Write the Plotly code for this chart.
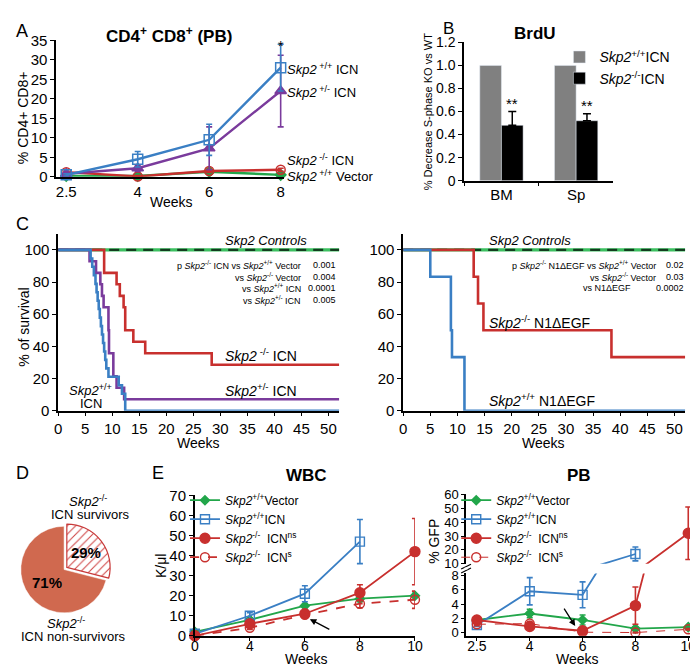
import plotly.graph_objects as go

FONT = "Liberation Sans, Arial, sans-serif"
W, H = 698, 666


def px(x):
    return x / W


def py(y):
    return 1 - y / H


BLUE = "#3a7fc4"
PURPLE = "#7a3b9c"
RED = "#c8302e"
GREEN = "#22a64a"
DKGREEN = "#123d1e"
GRAY = "#808080"
PIE = "#d0694f"

# ---------------- Panel A data ----------------
a_weeks = ["2.5", "4", "6", "8"]
a_wt_icn = [0.5, 4.5, 9.5, 28.0]
a_wt_icn_err = [0.3, 2.0, 4.0, 6.0]
a_het_icn = [0.8, 2.2, 7.3, 22.0]
a_het_icn_err = [0.3, 0.8, 5.5, 9.2]
a_ko_icn = [1.2, 0.1, 1.5, 1.8]
a_ko_icn_err = [0.3, 0.2, 0.4, 0.4]
a_wt_vec = [0.2, 0.2, 1.3, 0.5]
a_wt_vec_err = [0.1, 0.1, 0.3, 0.2]

# ---------------- Panel B data ----------------
b_tissues = ["BM", "Sp"]
b_wt = [1.0, 1.0]
b_ko = [0.48, 0.52]
b_ko_err = [0.12, 0.06]
b_yticks = [0, 0.2, 0.4, 0.6, 0.8, 1.0, 1.2]
b_yticklabels = ["0", "0.2", "0.4", "0.6", "0.8", "1.0", "1.2"]

# ---------------- Panel C data (survival, % vs weeks) ----------------
c1_ctrl_t = [0, 52]
c1_ctrl_s = [100, 100]
c1_ko_t = [0, 8.5, 10.8, 11.4, 12.1, 12.4, 13.9, 16.1, 28.4, 52]
c1_ko_s = [100, 85.7, 78.6, 71.4, 64.3, 50.0, 42.9, 35.7, 28.6, 28.6]
c1_het_t = [0, 5.8, 7.0, 7.8, 8.1, 8.4, 9.3, 9.4, 10.2, 10.8, 12.2, 52]
c1_het_s = [100, 92.9, 85.7, 78.6, 71.4, 64.3, 50.0, 35.7, 21.4, 14.3, 7.1, 7.1]
c1_wt_t = [0, 6.0, 6.3, 6.6, 6.9, 7.1, 7.3, 7.5, 7.7, 7.9, 8.1, 8.3, 8.5, 8.7,
           8.9, 9.3, 11.2, 11.8, 12.4, 52]
c1_wt_s = [100, 94.7, 89.5, 84.2, 78.9, 73.7, 68.4, 63.2, 57.9, 52.6, 47.4,
           42.1, 36.8, 31.6, 26.3, 21.1, 15.8, 10.5, 0, 0]

c2_ctrl_t = [0, 52]
c2_ctrl_s = [100, 100]
c2_ko_t = [0, 13.0, 13.8, 14.8, 38.4, 52]
c2_ko_s = [100, 83.3, 66.7, 50.0, 33.3, 33.3]
c2_wt_t = [0, 5.0, 8.8, 9.0, 11.3, 52]
c2_wt_s = [100, 83.3, 50.0, 33.3, 0, 0]

# ---------------- Panel D data ----------------
d_labels = ["survivors", "non-survivors"]
d_values = [29, 71]

# ---------------- Panel E data ----------------
e_wbc_weeks = ["0", "4", "6", "8", "10"]
wbc_vec = [2.0, 8.0, 15.0, 18.5, 20.0]
wbc_vec_err = [0.3, 0.8, 1.0, 1.5, 2.0]
wbc_icn = [1.0, 10.0, 21.0, 47.0]
wbc_icn_err = [0.3, 1.5, 4.0, 11.0]
wbc_ns = [0.0, 6.0, 11.0, 21.5, 42.0]
wbc_ns_err = [0.2, 1.0, 1.5, 4.0, 16.5]
wbc_s = [0.0, 4.0, 10.5, 16.0, 18.0]
wbc_s_err = [0.2, 0.8, 1.0, 2.0, 4.3]

e_pb_weeks = ["2.5", "4", "6", "8", "10"]
pb_vec = [1.8, 2.7, 1.8, 0.6, 0.8]
pb_vec_err = [0.2, 0.6, 0.7, 0.2, 0.2]
pb_icn = [1.1, 5.8, 5.3, 17.0]
pb_icn_err = [0.2, 1.9, 1.8, 5.0]
pb_ns = [1.8, 0.9, 0.3, 3.8, 32.0]
pb_ns_err = [0.2, 0.2, 0.1, 2.6, 19.0]
pb_s = [1.2, 1.3, 0.1, 0.05, 0.5]
pb_s_err = [0.2, 0.3, 0.1, 0.05, 0.1]

fig = go.Figure()

EB = dict(thickness=1.6, width=3)


def err(vals, color):
    return dict(type="data", array=vals, visible=True, color=color, **EB)


# ---- Panel A traces ----
for y, e, color, sym, size in [
    (a_wt_vec, a_wt_vec_err, GREEN, "diamond", 8),
    (a_ko_icn, a_ko_icn_err, RED, "circle-open", 9),
    (a_het_icn, a_het_icn_err, PURPLE, "triangle-up", 10),
    (a_wt_icn, a_wt_icn_err, BLUE, "square-open", 10),
]:
    fig.add_trace(go.Scatter(
        x=a_weeks, y=y, mode="lines+markers", xaxis="x", yaxis="y",
        line=dict(color=color, width=2.4),
        marker=dict(symbol=sym, size=size, color=color, line=dict(width=1.5, color=color)),
        error_y=err(e, color), showlegend=False, cliponaxis=False))

# ---- Panel B traces ----
fig.add_trace(go.Bar(
    x=b_tissues, y=b_wt, xaxis="x2", yaxis="y2", marker_color=GRAY,
    name="<i>Skp2</i><sup>+/+</sup>ICN", legend="legend"))
fig.add_trace(go.Bar(
    x=b_tissues, y=b_ko, xaxis="x2", yaxis="y2", marker_color="black",
    name="<i>Skp2</i><sup>-/-</sup>ICN", legend="legend",
    error_y=dict(type="data", array=b_ko_err, arrayminus=[0, 0], symmetric=False,
                 color="black", thickness=1.5, width=4)))

# ---- Panel C traces ----
def surv(t, s, xa, ya, color, width=2.6, dash=None):
    fig.add_trace(go.Scatter(
        x=t, y=s, xaxis=xa, yaxis=ya, mode="lines", line_shape="hv",
        line=dict(color=color, width=width, dash=dash), showlegend=False,
        cliponaxis=False))


surv(c1_ctrl_t, c1_ctrl_s, "x3", "y3", "#3cc060", width=3.4)
surv(c1_ctrl_t, c1_ctrl_s, "x3", "y3", DKGREEN, width=2.2, dash="10px,7px")
surv(c1_ko_t, c1_ko_s, "x3", "y3", RED)
surv(c1_het_t, c1_het_s, "x3", "y3", PURPLE)
surv(c1_wt_t, c1_wt_s, "x3", "y3", BLUE)

surv(c2_ctrl_t, c2_ctrl_s, "x4", "y4", "#3cc060", width=3.4)
surv(c2_ctrl_t, c2_ctrl_s, "x4", "y4", DKGREEN, width=2.2, dash="10px,7px")
surv(c2_ko_t, c2_ko_s, "x4", "y4", RED)
surv(c2_wt_t, c2_wt_s, "x4", "y4", BLUE)

# ---- Panel D pie ----
fig.add_trace(go.Pie(
    labels=d_labels, values=d_values, sort=False, direction="clockwise", rotation=0,
    pull=[0.08, 0], text=["<b>29%</b>", "<b>71%</b>"], textinfo="text",
    textposition="inside", insidetextorientation="horizontal",
    textfont=dict(size=15, color="black", family=FONT),
    marker=dict(colors=["white", PIE],
                pattern=dict(shape=["/", ""], fgcolor=["#d04848", PIE], bgcolor=["white", PIE],
                             size=6, solidity=0.18),
                line=dict(color=["#c83a3a", "white"], width=[1.2, 0.5])),
    domain=dict(x=[px(5), px(101)], y=[py(615), py(519)]),
    showlegend=False, hoverinfo="none"))

# ---- Panel E WBC ----
e_series = [
    ("<i>Skp2</i><sup>+/+</sup>Vector", GREEN, "diamond", 7, None),
    ("<i>Skp2</i><sup>+/+</sup>ICN", BLUE, "square-open", 9, None),
    ("<i>Skp2</i><sup>-/-</sup>  ICN<sup>ns</sup>", RED, "circle", 10, None),
    ("<i>Skp2</i><sup>-/-</sup>  ICN<sup>s</sup>", RED, "circle-open", 9, "dash"),
]
wbc_vals = [(wbc_vec, wbc_vec_err), (wbc_icn, wbc_icn_err), (wbc_ns, wbc_ns_err), (wbc_s, wbc_s_err)]
for (name, color, sym, size, dash), (y, e) in zip(e_series, wbc_vals):
    fig.add_trace(go.Scatter(
        x=e_wbc_weeks[:len(y)], y=y, xaxis="x5", yaxis="y5", mode="lines+markers",
        name=name, legend="legend2",
        line=dict(color=color, width=1.8, dash=dash),
        marker=dict(symbol=sym, size=size, color=color, line=dict(width=1.4, color=color)),
        error_y=err(e, color), cliponaxis=False))

# ---- Panel E PB (broken axis) ----
pb_vals = [(pb_vec, pb_vec_err), (pb_icn, pb_icn_err), (pb_ns, pb_ns_err), (pb_s, pb_s_err)]
pb_widths = [1.8, 1.8, 1.8, 1.0]
for (name, color, sym, size, dash), (y, e), lw in zip(e_series, pb_vals, pb_widths):
    fig.add_trace(go.Scatter(
        x=e_pb_weeks[:len(y)], y=y, xaxis="x6", yaxis="y6", mode="lines+markers",
        name=name, legend="legend3",
        line=dict(color=color, width=lw, dash=dash),
        marker=dict(symbol=sym, size=size, color=color, line=dict(width=1.4, color=color)),
        error_y=err(e, color), cliponaxis=True))
for (name, color, sym, size, dash), (y, e) in [(e_series[1], pb_vals[1]), (e_series[2], pb_vals[2])]:
    fig.add_trace(go.Scatter(
        x=e_pb_weeks[:len(y)], y=y, xaxis="x6", yaxis="y7", mode="lines+markers",
        showlegend=False,
        line=dict(color=color, width=1.8, dash=dash),
        marker=dict(symbol=sym, size=size, color=color, line=dict(width=1.4, color=color)),
        error_y=err(e, color), cliponaxis=True))

TICKF = dict(family=FONT, size=15, color="black")
TICKF14 = dict(family=FONT, size=14, color="black")
TICKF13 = dict(family=FONT, size=13, color="black")
AX = dict(showline=True, linecolor="black", linewidth=1.5, ticks="outside",
          ticklen=4, tickcolor="black", tickwidth=1.2, showgrid=False, zeroline=False,
          tickfont=TICKF)

layout = dict(
    width=W, height=H, margin=dict(l=0, r=0, t=0, b=0),
    paper_bgcolor="white", plot_bgcolor="white",
    font=dict(family=FONT, color="black"),
    barmode="group", bargap=0.42, bargroupgap=0,
    # A
    xaxis=dict(AX, domain=[px(45), px(277)], anchor="y", type="category",
               range=[-0.14, 3.05], ticks=""),
    yaxis=dict(AX, domain=[py(164), py(24)], anchor="x", range=[0, 35],
               tickvals=[0, 5, 10, 15, 20, 25, 30, 35]),
    # B
    xaxis2=dict(AX, domain=[px(460), px(612)], anchor="y2", type="category",
                range=[-0.5, 1.5], tickson="boundaries"),
    yaxis2=dict(AX, domain=[py(168), py(26)], anchor="x2", range=[0, 1.2],
                tickvals=b_yticks, ticktext=b_yticklabels, tickfont=TICKF14),
    # C left
    xaxis3=dict(AX, domain=[px(47), px(333)], anchor="y3", range=[0, 52],
                tickvals=list(range(0, 55, 5))),
    yaxis3=dict(AX, domain=[py(404), py(223)], anchor="x3", range=[0, 109.7],
                tickvals=[0, 20, 40, 60, 80, 100]),
    # C right
    xaxis4=dict(AX, domain=[px(398), px(685)], anchor="y4", range=[0, 52],
                tickvals=list(range(0, 55, 5))),
    yaxis4=dict(AX, domain=[py(404), py(223)], anchor="x4", range=[0, 109.7],
                tickvals=[0, 20, 40, 60, 80, 100]),
    # E WBC
    xaxis5=dict(AX, domain=[px(186), px(410)], anchor="y5", type="category",
                range=[0, 4], ticklen=3, ticklabelstandoff=-6, tickfont=TICKF14),
    yaxis5=dict(AX, domain=[py(635), py(491)], anchor="x5", range=[0, 70],
                tickvals=[0, 10, 20, 30, 40, 50, 60, 70]),
    # E PB
    xaxis6=dict(AX, domain=[px(462), px(694)], anchor="y6", type="category",
                range=[-0.205, 4.11], ticklen=3, ticklabelstandoff=-6, tickfont=TICKF14),
    yaxis6=dict(AX, domain=[py(635), py(571)], anchor="x6", range=[-0.4, 8.28],
                tickvals=[0, 2, 4, 6, 8], tickfont=TICKF13, ticklen=3),
    yaxis7=dict(AX, domain=[py(561), py(490)], anchor="x6", range=[10, 60],
                tickvals=[10, 20, 30, 40, 50, 60], tickfont=TICKF13, ticklen=3),
    legend=dict(x=px(557), y=py(25), xanchor="left", yanchor="top",
                bgcolor="rgba(0,0,0,0)", font=dict(family=FONT, size=14),
                tracegroupgap=0),
    legend2=dict(x=px(176), y=py(481), xanchor="left", yanchor="top",
                 bgcolor="rgba(0,0,0,0)", font=dict(family=FONT, size=12),
                 tracegroupgap=0, itemwidth=30),
    legend3=dict(x=px(452), y=py(481), xanchor="left", yanchor="top",
                 bgcolor="rgba(0,0,0,0)", font=dict(family=FONT, size=12),
                 tracegroupgap=0, itemwidth=30),
)
fig.update_layout(**layout)

ann = []


def T(x, y, text, size=14, xanchor="center", yanchor="middle", angle=0, **kw):
    ann.append(dict(x=px(x), y=py(y), xref="paper", yref="paper", text=text,
                    showarrow=False, xanchor=xanchor, yanchor=yanchor, textangle=angle,
                    font=dict(family=FONT, size=size, color="black"), **kw))


# panel letters
T(2, 14, "A", 18, xanchor="left")
T(436, 12, "B", 17, xanchor="left")
T(2, 212, "C", 18, xanchor="left")
T(2, 468, "D", 18, xanchor="left")
T(140, 468, "E", 18, xanchor="left")

# A
T(160, 18, "<b>CD4<sup>+</sup> CD8<sup>+</sup> (PB)</b>", 17)
T(12, 103, "% CD4+ CD8+", 14, angle=-90)
T(162, 190, "Weeks", 14)
T(278, 53, "<i>Skp2</i><sup> +/+</sup> ICN", 13, xanchor="left")
T(278, 77, "<i>Skp2</i><sup> +/-</sup> ICN", 13, xanchor="left")
T(278, 147, "<i>Skp2</i><sup> -/-</sup> ICN", 13, xanchor="left")
T(278, 163, "<i>Skp2</i><sup> +/+</sup> Vector", 13, xanchor="left")
ann.append(dict(x=3, xref="x", y=py(19), yref="paper", text="*", showarrow=False,
                font=dict(family=FONT, size=14, color="black")))

# B
T(532, 17, "<b>BrdU</b>", 17)
T(423, 97, "% Decrease S-phase KO vs WT", 11, angle=-90)
for i, (v, e) in enumerate(zip(b_ko, b_ko_err)):
    ann.append(dict(x=i + 0.145, xref="x2", y=v + e - 0.02, yref="y2", text="**",
                    showarrow=False, yanchor="bottom",
                    font=dict(family=FONT, size=15, color="black")))

# C left
T(12, 318, "% of survival", 14, angle=-90)
T(190, 437, "Weeks", 14)
T(258, 229, "<i>Skp2 Controls</i>", 13)
pl = [("p <i>Skp2</i><sup>-/-</sup> ICN vs <i>Skp2</i><sup>+/+</sup> Vector", "0.001"),
      ("vs <i>Skp2</i><sup>-/-</sup> Vector", "0.004"),
      ("vs <i>Skp2</i><sup>+/+</sup> ICN", "0.0001"),
      ("vs <i>Skp2</i><sup>+/-</sup> ICN", "0.005")]
for k, (a, b) in enumerate(pl):
    yy = 254 + k * 12.3
    T(296, yy, a, 9, xanchor="right")
    T(332, yy, b, 9, xanchor="right")
T(215, 347, "<i>Skp2</i><sup> -/-</sup> ICN", 14, xanchor="left")
T(215, 383, "<i>Skp2</i><sup>+/-</sup> ICN", 14, xanchor="left")
T(80, 383, "<i>Skp2</i><sup>+/+</sup>", 13)
T(80, 397, "ICN", 13)

# C right
T(541, 437, "Weeks", 14)
T(527, 229, "<i>Skp2 Controls</i>", 13)
pr = [("p <i>Skp2</i><sup>-/-</sup> N1ΔEGF vs <i>Skp2</i><sup>+/+</sup> Vector", "0.02"),
      ("vs <i>Skp2</i><sup>-/-</sup> Vector", "0.03"),
      ("vs N1ΔEGF", "0.0002")]
for k, (a, b) in enumerate(pr):
    yy = 254 + k * 12.3
    T(657 if k < 2 else 632, yy, a, 9, xanchor="right")
    T(686, yy, b, 9, xanchor="right")
T(483, 313, "<i>Skp2</i><sup>-/-</sup> N1ΔEGF", 14, xanchor="left")
T(483, 393, "<i>Skp2</i><sup>+/+</sup> N1ΔEGF", 14, xanchor="left")

# D
T(77, 497, "<i>Skp2</i><sup>-/-</sup>", 13)
T(80, 511, "ICN survivors", 13)
T(55, 622, "<i>Skp2</i><sup>-/-</sup>", 13)
T(63, 636, "ICN non-survivors", 13)

# E
T(300, 470, "<b>WBC</b>", 17)
T(300, 659, "Weeks", 14)
T(151, 563, "K/μl", 14, angle=-90)
T(577, 470, "<b>PB</b>", 17)
T(575, 659, "Weeks", 14)
T(430, 538, "% GFP", 14, angle=-90)

ann.append(dict(x=2.09, xref="x5", y=8.3, yref="y5", text="", showarrow=True,
                ax=21, ay=11, arrowhead=2, arrowsize=1, arrowwidth=1.3, arrowcolor="black"))
ann.append(dict(x=1.86, xref="x6", y=0.95, yref="y6", text="", showarrow=True,
                ax=-12, ay=-19, arrowhead=2, arrowsize=1, arrowwidth=1.3, arrowcolor="black"))

fig.update_layout(annotations=ann)

# axis break marks on PB y axis
for yy in (564.0, 568.0):
    fig.add_shape(type="line", xref="paper", yref="paper",
                  x0=px(457), x1=px(467), y0=py(yy + 2.5), y1=py(yy - 2.5),
                  line=dict(color="black", width=1.2))
fig.add_shape(type="line", xref="paper", yref="paper",
              x0=px(462), x1=px(462), y0=py(567), y1=py(565),
              line=dict(color="white", width=3))

fig.write_html("out.html")
